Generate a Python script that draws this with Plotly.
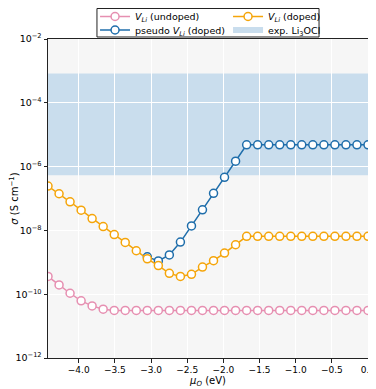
import plotly.graph_objects as go

# oxygen chemical potential grid (eV)
mu_O = [-4.425, -4.272, -4.120, -3.967, -3.815, -3.662, -3.509, -3.357, -3.204, -3.052,
        -2.899, -2.747, -2.594, -2.441, -2.289, -2.136, -1.984, -1.831, -1.678, -1.526,
        -1.373, -1.221, -1.068, -0.916, -0.763, -0.610, -0.458, -0.305, -0.153, 0.0]

# conductivities (S/cm)
sigma_undoped = [3.6e-10, 1.95e-10, 1.07e-10, 6.2e-11, 4.3e-11, 3.4e-11] + [3.1e-11] * 24
sigma_doped = [2.45e-7, 1.41e-7, 7.9e-8, 4.3e-8, 2.35e-8, 1.32e-8, 7.4e-9, 4.2e-9, 2.3e-9, 1.29e-9,
               7.9e-10, 4.5e-10, 3.6e-10, 4.2e-10, 7.1e-10, 1.12e-9, 1.95e-9, 3.55e-9] + [6.5e-9] * 12
sigma_pseudo = [None] * 9 + [1.48e-9, 1.1e-9, 1.7e-9, 4.3e-9, 1.38e-8, 4.4e-8, 1.45e-7, 4.6e-7,
                             1.48e-6] + [4.8e-6] * 12

# experimental Li3OCl range
exp_lo = 5.4e-7
exp_hi = 8.3e-4

ytick_exp = [-12, -10, -8, -6, -4, -2]
xtick_vals = [-4.0, -3.5, -3.0, -2.5, -2.0, -1.5, -1.0, -0.5, 0.0]

pink = '#e68fb1'
orange = '#f5a50a'
blue = '#1f6eab'
band = '#c9dded'

fig = go.Figure()

def add_line(y, color, name, rank, leg):
    fig.add_trace(go.Scatter(
        x=mu_O, y=y, mode='lines+markers', name=name, legendrank=rank, legend=leg,
        line=dict(color=color, width=1.5),
        marker=dict(symbol='circle', size=8, color='white', line=dict(color=color, width=1.5)),
    ))

add_line(sigma_undoped, pink, '<i>V<sub>Li</sub></i> (undoped)', 1, 'legend')
add_line(sigma_pseudo, blue, 'pseudo <i>V<sub>Li</sub></i> (doped)', 1, 'legend2')
add_line(sigma_doped, orange, '<i>V<sub>Li</sub></i> (doped)', 2, 'legend')

# legend entry for the band
fig.add_trace(go.Scatter(
    x=[None], y=[None], mode='none', fill='toself', fillcolor=band,
    name='exp. Li<sub>3</sub>OCl', legendrank=2, legend='legend2',
))

fig.add_shape(type='rect', xref='paper', yref='y', x0=0, x1=1, y0=exp_lo, y1=exp_hi,
              fillcolor=band, line=dict(width=0), layer='below')

# legend frame (two one-row legends sit inside it)
fig.add_shape(type='rect', xref='paper', yref='paper', x0=0.153, x1=0.847, y0=1.0063, y1=1.0956,
              fillcolor='white', line=dict(color='#222', width=1), layer='above')

leg_style = dict(
    orientation='h', x=0.147, xanchor='left', yanchor='middle',
    entrywidth=88, borderwidth=0, bgcolor='rgba(0,0,0,0)',
    font=dict(size=9.5), itemwidth=30,
)

# page body adds an 8px offset, so the figure is sized to fill the rest
fig.update_layout(
    width=368, height=381,
    margin=dict(l=40, r=8, t=31, b=31, autoexpand=False),
    paper_bgcolor='white', plot_bgcolor='#f6f6f6',
    font=dict(family='DejaVu Sans', size=10, color='black'),
    showlegend=True,
    legend=dict(y=1.0705, **leg_style),
    legend2=dict(y=1.0282, **leg_style),
)

fig.update_xaxes(
    range=[-4.425, 0.0], tickvals=xtick_vals, tickformat='.1f',
    ticks='outside', ticklen=3.5, tickcolor='#222', tickfont=dict(size=9),
    showgrid=True, gridcolor='white', gridwidth=1,
    showline=True, linecolor='#222', linewidth=1, mirror=True, zeroline=False,
    title=dict(text='<i>μ<sub>O</sub></i> (eV)', standoff=2, font=dict(size=10)),
)

fig.update_yaxes(
    type='log', range=[-12, -2],
    tickvals=[10.0 ** e for e in ytick_exp],
    ticktext=['10<sup>−%d</sup>' % -e for e in ytick_exp],
    ticks='outside', ticklen=3.5, tickcolor='#222', tickfont=dict(size=9.5),
    showgrid=True, gridcolor='white', gridwidth=1,
    showline=True, linecolor='#222', linewidth=1, mirror=True, zeroline=False,
    title=dict(text='<i>σ</i> (S cm<sup>−1</sup>)', standoff=2, font=dict(size=10)),
)

fig.write_html("out.html")
